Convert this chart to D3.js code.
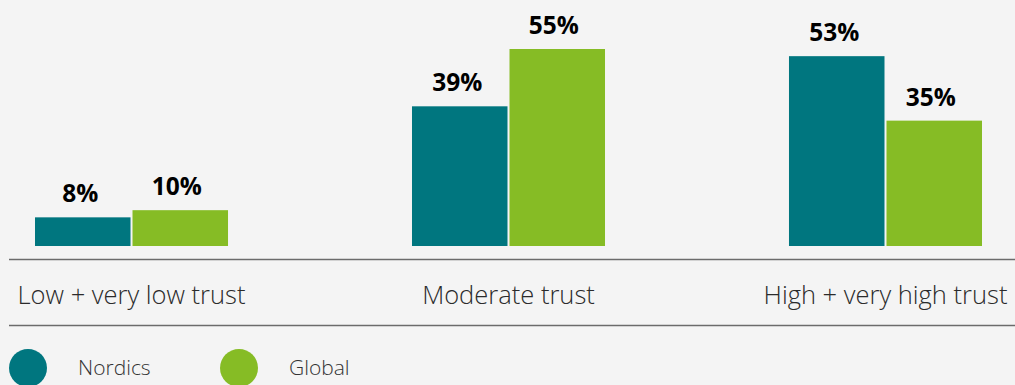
<!DOCTYPE html>
<html>
<head>
<meta charset="utf-8">
<script src="https://cdn.jsdelivr.net/npm/d3@7"></script>
<style>
  html, body { margin: 0; padding: 0; background: #f4f4f4; }
  svg { display: block; }
  text { font-family: "Open Sans", sans-serif; }
</style>
</head>
<body>
<svg id="chart" width="1015" height="385"></svg>
<script>
// Trust levels and share of respondents per region (%)
const categories = ["Low + very low trust", "Moderate trust", "High + very high trust"];
const seriesNames = ["Nordics", "Global"];
const nordics = [8, 39, 53];
const global = [10, 55, 35];
const colors = ["#00767f", "#86bc25"];

const svg = d3.select("#chart");
const W = 1015, H = 385;
const baseline = 246;

svg.append("rect").attr("width", W).attr("height", H).attr("fill", "#f4f4f4");

const x0 = d3.scaleBand().domain(categories).range([35, 982]).paddingInner(0.488).paddingOuter(0);
const x1 = d3.scaleBand().domain(seriesNames).range([0, x0.bandwidth()]).padding(0);
const y = d3.scaleLinear().domain([0, 55]).range([baseline, 49]);

const rows = categories.map((c, i) => ({
  category: c,
  values: [
    { name: "Nordics", value: nordics[i] },
    { name: "Global", value: global[i] }
  ]
}));

const groups = svg.selectAll("g.group")
  .data(rows)
  .join("g")
  .attr("class", "group")
  .attr("transform", d => `translate(${x0(d.category)},0)`);

groups.selectAll("rect")
  .data(d => d.values)
  .join("rect")
  .attr("x", d => x1(d.name) + (d.name === "Global" ? 1 : 0))
  .attr("width", x1.bandwidth() - 1)
  .attr("y", d => y(d.value))
  .attr("height", d => baseline - y(d.value))
  .attr("fill", (d, i) => colors[i]);

groups.selectAll("text.value")
  .data(d => d.values)
  .join("text")
  .attr("class", "value")
  .attr("x", d => x1(d.name) + x1.bandwidth() / 2 - 3)
  .attr("y", d => y(d.value) - 15)
  .attr("text-anchor", "middle")
  .attr("font-size", 24.5)
  .attr("font-weight", 700)
  .attr("fill", "#000")
  .text(d => d.value + "%");

// Category axis with rules above and below
svg.append("line")
  .attr("x1", 9).attr("x2", W).attr("y1", 259.5).attr("y2", 259.5)
  .attr("stroke", "#6b6b6b").attr("stroke-width", 1.5);
svg.append("line")
  .attr("x1", 9).attr("x2", W).attr("y1", 325.5).attr("y2", 325.5)
  .attr("stroke", "#6b6b6b").attr("stroke-width", 1.5);

svg.selectAll("text.cat")
  .data(categories)
  .join("text")
  .attr("class", "cat")
  .attr("x", d => x0(d) + x0.bandwidth() / 2)
  .attr("y", 304)
  .attr("text-anchor", "middle")
  .attr("font-size", 25.5)
  .attr("font-weight", 300)
  .attr("fill", "#2b2b2b")
  .text(d => d);

// Legend
const legendX = [28, 239];
const legend = svg.selectAll("g.legend")
  .data(seriesNames)
  .join("g")
  .attr("class", "legend")
  .attr("transform", (d, i) => `translate(${legendX[i]},368)`);
legend.append("circle").attr("r", 19).attr("fill", (d, i) => colors[i]);
legend.append("text")
  .attr("x", 50).attr("y", 7)
  .attr("font-size", 21)
  .attr("font-weight", 300)
  .attr("fill", "#333")
  .text(d => d);
</script>
</body>
</html>
